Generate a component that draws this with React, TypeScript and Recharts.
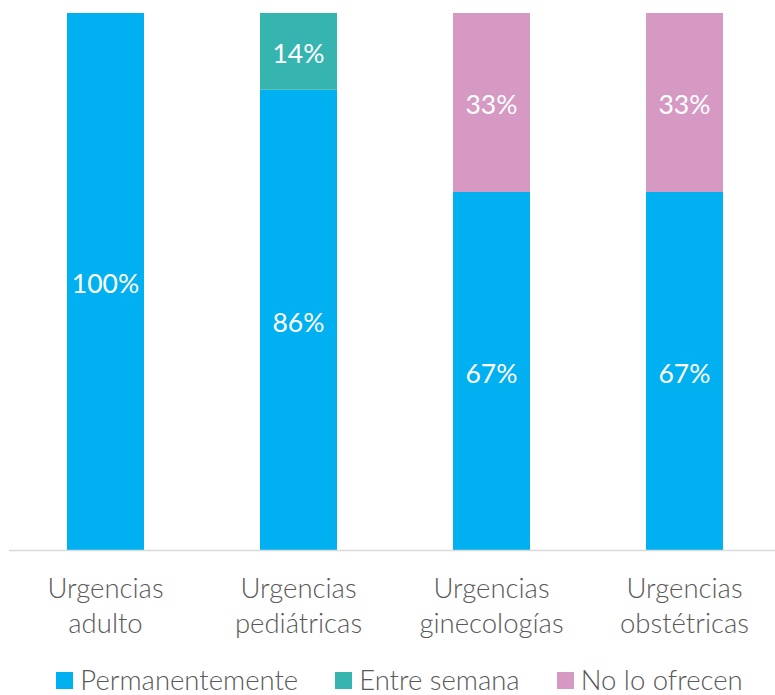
import React from "react";
import { BarChart, Bar, XAxis, YAxis, Legend, LabelList } from "recharts";

const categories = [
  "Urgencias\nadulto",
  "Urgencias\npediátricas",
  "Urgencias\nginecologías",
  "Urgencias\nobstétricas",
];
const permanentemente = [100, 85.7, 66.7, 66.7];
const entreSemana = [0, 14.3, 0, 0];
const noLoOfrecen = [0, 0, 33.3, 33.3];

const SERIES = [
  { key: "permanentemente", name: "Permanentemente", color: "#00B0F0" },
  { key: "entreSemana", name: "Entre semana", color: "#36B5B0" },
  { key: "noLoOfrecen", name: "No lo ofrecen", color: "#D699C3" },
];

const data = categories.map((c, i) => ({
  name: c,
  permanentemente: permanentemente[i],
  entreSemana: entreSemana[i],
  noLoOfrecen: noLoOfrecen[i],
}));

const FONT = "Lato, 'Open Sans', sans-serif";

const CategoryTick = (props: any) => {
  const { x, y, payload } = props;
  const lines = String(payload.value).split("\n");
  return (
    <text
      x={x}
      y={y}
      textAnchor="middle"
      fill="#595959"
      fontFamily={FONT}
      fontWeight={300}
      fontSize={27.5}
    >
      {lines.map((l, i) => (
        <tspan key={i} x={x} dy={i === 0 ? 39 : 35}>
          {l}
        </tspan>
      ))}
    </text>
  );
};

const LegendContent = () => (
  <div
    style={{
      display: "flex",
      justifyContent: "center",
      gap: 37,
      fontFamily: FONT,
      fontWeight: 300,
      fontSize: 27.5,
      color: "#595959",
      paddingLeft: 18,
    }}
  >
    {SERIES.map((s) => (
      <div key={s.key} style={{ display: "flex", alignItems: "center" }}>
        <div
          style={{ width: 17, height: 17, background: s.color, marginRight: 7 }}
        />
        <span style={{ lineHeight: "28px" }}>{s.name}</span>
      </div>
    ))}
  </div>
);

const fmt = (v: any) => (Number(v) > 0 ? `${Math.round(Number(v))}%` : "");

export default function App() {
  return (
    <div
      style={{
        position: "absolute",
        left: 0,
        top: 0,
        width: 775,
        height: 695,
        overflow: "hidden",
        background: "#fff",
      }}
    >
      <BarChart
        width={781}
        height={695}
        data={data}
        margin={{ top: 13, left: 9, right: 0, bottom: 0 }}
        barSize={77}
      >
        <XAxis
          dataKey="name"
          height={144.5}
          interval={0}
          tickLine={false}
          axisLine={{ stroke: "#D9D9D9", strokeWidth: 1.5 }}
          tick={<CategoryTick />}
        />
        <YAxis hide domain={[0, 100]} />
        <Legend
          verticalAlign="middle"
          align="center"
          content={<LegendContent />}
          wrapperStyle={{ top: 666, left: 0, width: 781 }}
        />
        {SERIES.map((s) => (
          <Bar
            key={s.key}
            dataKey={s.key}
            name={s.name}
            stackId="a"
            fill={s.color}
            isAnimationActive={false}
          >
            <LabelList
              dataKey={s.key}
              position="center"
              formatter={fmt}
              fill="#fff"
              fontFamily={FONT}
              fontSize={26.5}
              dy={2}
            />
          </Bar>
        ))}
      </BarChart>
    </div>
  );
}
